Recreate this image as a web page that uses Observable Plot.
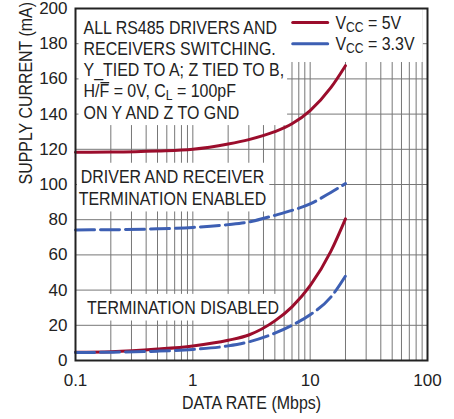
<!DOCTYPE html>
<html><head><meta charset="utf-8">
<script src="https://cdn.jsdelivr.net/npm/d3@7"></script>
<script src="https://cdn.jsdelivr.net/npm/@observablehq/plot@0.6"></script>
<style>
html,body{margin:0;padding:0;background:#fff;}
</style></head><body>
<div id="chart"></div>
<script>
// ---- data ----
const rates = [0.1, 0.2, 0.5, 1, 2, 3, 5, 7, 10, 15, 20];            // Mbps
const enabled5V  = [118.3, 118.4, 119, 120, 123, 125.5, 130, 134.5, 142, 155, 167.5];
const enabled33V = [74.2, 74.3, 74.8, 75.6, 77.2, 78.7, 82.5, 85.3, 89, 95.5, 100.5];
const disabled5V = [4.7, 5, 6.5, 8.3, 11.5, 14.5, 22.5, 30.5, 42.5, 62, 80.5];
const disabled33V= [4.5, 4.7, 5.3, 6.3, 8.3, 10.6, 15.5, 20, 26, 36, 48];

const xTicks = [0.1, 1, 10, 100];
const yTicks = [0, 20, 40, 60, 80, 100, 120, 140, 160, 180, 200];

const seriesNames = ["5V", "3.3V"];
const seriesColors = ["#9b0d2c", "#3d5fb3"];
const legendLabels = ["V_{CC} = 5V", "V_{CC} = 3.3V"];
const legendY = [192, 180];          // mA
const legendX = [7.1, 14.1, 16.4];   // Mbps: line start, line end, text

const noteTexts = [
  "ALL RS485 DRIVERS AND\nRECEIVERS SWITCHING.\nY_TIED TO A; Z TIED TO B,\nH/~{F} = 0V, C_{L} = 100pF\nON Y AND Z TO GND",
  "DRIVER AND RECEIVER\nTERMINATION ENABLED",
  "TERMINATION DISABLED"
];
const noteX = [0.117, 0.671, 0.825];
const noteY = [194.3, 109.7, 35.2];
const noteAnchor = ["start", "middle", "middle"];

// ---- tables built from the arrays ----
const curves = [
  {name: "5V", group: "en", values: enabled5V},
  {name: "3.3V", group: "en", values: enabled33V},
  {name: "5V", group: "dis", values: disabled5V},
  {name: "3.3V", group: "dis", values: disabled33V}
];
const rows = curves.flatMap(c => rates.map((r, i) => ({rate: r, mA: c.values[i], series: c.name, key: c.name + c.group})));
const legendRows = seriesNames.flatMap((s, i) => [
  {x: legendX[0], y: legendY[i], series: s},
  {x: legendX[1], y: legendY[i], series: s}
]);
const notes = noteTexts.map((t, i) => ({text: t, x: noteX[i], y: noteY[i], anchor: noteAnchor[i]}));
const xGrid = d3.scaleLog().domain([0.1, 100]).ticks();

const sans = "'Liberation Sans',Arial,Helvetica,sans-serif";
const dash = "19,6";
const TXT = 19;

const plot = Plot.plot({
  width: 454, height: 419,
  marginLeft: 75, marginRight: 27, marginTop: 8, marginBottom: 59,
  x: {type: "log", domain: [0.1, 100]},
  y: {domain: [0, 200]},
  color: {domain: seriesNames, range: seriesColors},
  style: {fontFamily: sans, fontSize: "17px", color: "#222", background: "#fff"},
  marks: [
    Plot.ruleX(xGrid, {stroke: "#777", strokeWidth: 1}),
    Plot.ruleY(yTicks, {stroke: "#777", strokeWidth: 1}),
    ...notes.map((n, i) => Plot.text([n], {
      x: "x", y: "y", text: "text", textAnchor: n.anchor, lineAnchor: "top",
      lineHeight: i === 0 ? 1.12 : 1.16, fontFamily: sans, fontSize: TXT, fill: "#222",
      className: "note narrow"
    })),
    Plot.line(legendRows, {x: "x", y: "y", z: "series", stroke: "series", strokeWidth: 3,
      strokeDasharray: d => d.series === "3.3V" ? dash : null, className: "legend"}),
    Plot.text(legendLabels, {x: () => legendX[2], y: (d, i) => legendY[i], text: d => d,
      textAnchor: "start", lineAnchor: "middle", fontFamily: sans, fontSize: TXT, fill: "#222", className: "legend narrow"}),
    Plot.line(rows.filter(d => d.series === "5V"), {x: "rate", y: "mA", z: "key", stroke: "series",
      strokeWidth: 3, curve: "monotone-x"}),
    Plot.line(rows.filter(d => d.series === "3.3V"), {x: "rate", y: "mA", z: "key", stroke: "series",
      strokeWidth: 3, curve: "monotone-x", strokeDasharray: dash}),
    Plot.frame({stroke: "#222", strokeWidth: 2}),
    Plot.axisX({ticks: xTicks, tickSize: 0, tickPadding: 13, tickFormat: d => String(d), label: null,
      fontFamily: sans, fontSize: 17}),
    Plot.axisY({ticks: yTicks, tickSize: 0, tickPadding: 8, label: null, fontFamily: sans, fontSize: 17}),
    Plot.text(["DATA RATE (Mbps)"], {frameAnchor: "bottom", text: d => d, lineAnchor: "top", dy: 35,
      fontFamily: sans, fontSize: TXT, fill: "#222", className: "narrow"}),
    Plot.text(["SUPPLY CURRENT (mA)"], {frameAnchor: "left", text: d => d, rotate: -90, lineAnchor: "middle", dx: -50,
      fontFamily: sans, fontSize: TXT, fill: "#222", className: "narrow"})
  ]
});
document.getElementById("chart").appendChild(plot);

const NS = "http://www.w3.org/2000/svg";

// ---- condensed lettering: horizontal squeeze of the narrow texts ----
const SQ = 0.84;
plot.querySelectorAll("g.narrow text").forEach(el => {
  let t = el.getAttribute("transform");
  if (!t) {
    const x = el.getAttribute("x") || 0, y = el.getAttribute("y") || 0;
    el.removeAttribute("x"); el.removeAttribute("y");
    t = `translate(${x},${y})`;
  }
  el.setAttribute("transform", t + ` scale(${SQ},1)`);
});

// ---- rich text: subscripts _{..} and overlines ~{..} ----
const overlined = [];
plot.querySelectorAll("text, tspan").forEach(el => {
  if (el.children.length) return;
  const s = el.textContent;
  if (!/[_~]\{/.test(s)) return;
  el.textContent = "";
  const re = /([_~])\{([^}]*)\}/g;
  let last = 0, m, back = false;
  const add = (txt, kind) => {
    const t = document.createElementNS(NS, "tspan");
    t.textContent = txt;
    if (kind === "_") { t.setAttribute("dy", "3"); t.setAttribute("font-size", "76%"); }
    else if (back) { t.setAttribute("dy", "-3"); }
    if (kind === "~") overlined.push(t);
    back = kind === "_";
    el.appendChild(t);
  };
  while ((m = re.exec(s))) {
    if (m.index > last) add(s.slice(last, m.index));
    add(m[2], m[1]);
    last = re.lastIndex;
  }
  if (last < s.length) add(s.slice(last));
});

const svgBox = plot.getBoundingClientRect();
// overline bar drawn just above the overlined letters
overlined.forEach(t => {
  const r = t.getBoundingClientRect();
  const ln = document.createElementNS(NS, "line");
  const y = r.top - svgBox.top + 0.19 * TXT - 1.6;
  ln.setAttribute("x1", r.left - svgBox.left + 0.5); ln.setAttribute("x2", r.right - svgBox.left - 0.5);
  ln.setAttribute("y1", y); ln.setAttribute("y2", y);
  ln.setAttribute("stroke", "#222"); ln.setAttribute("stroke-width", 1.3);
  t.closest("g").appendChild(ln);
});

// ---- white boxes behind the annotation blocks ----
const fx0 = 75, fx1 = 454 - 27, fy0 = 8;
function boxBehind(elements, pad, before) {
  let x0 = Infinity, y0 = Infinity, x1 = -Infinity, y1 = -Infinity;
  elements.forEach(e => {
    const r = e.getBoundingClientRect();
    x0 = Math.min(x0, r.left - svgBox.left); y0 = Math.min(y0, r.top - svgBox.top);
    x1 = Math.max(x1, r.right - svgBox.left); y1 = Math.max(y1, r.bottom - svgBox.top);
  });
  x0 = Math.max(fx0 + 2, x0 - pad[3]); x1 = Math.min(fx1 - 2, x1 + pad[1]);
  y0 = y0 - pad[0]; y1 = y1 + pad[2];
  if (y0 - fy0 < 8) y0 = fy0 + 1;
  const rect = document.createElementNS(NS, "rect");
  rect.setAttribute("x", x0); rect.setAttribute("y", y0);
  rect.setAttribute("width", x1 - x0); rect.setAttribute("height", y1 - y0);
  rect.setAttribute("fill", "#fff");
  before.parentNode.insertBefore(rect, before);
}
plot.querySelectorAll("g.note").forEach(g => boxBehind([...g.querySelectorAll("text")], [3, 3, 2, 5], g));
const legendGroups = [...plot.querySelectorAll("g.legend")];
boxBehind(legendGroups, [6, 8, 6, 6], legendGroups[0]);
</script>
</body></html>
